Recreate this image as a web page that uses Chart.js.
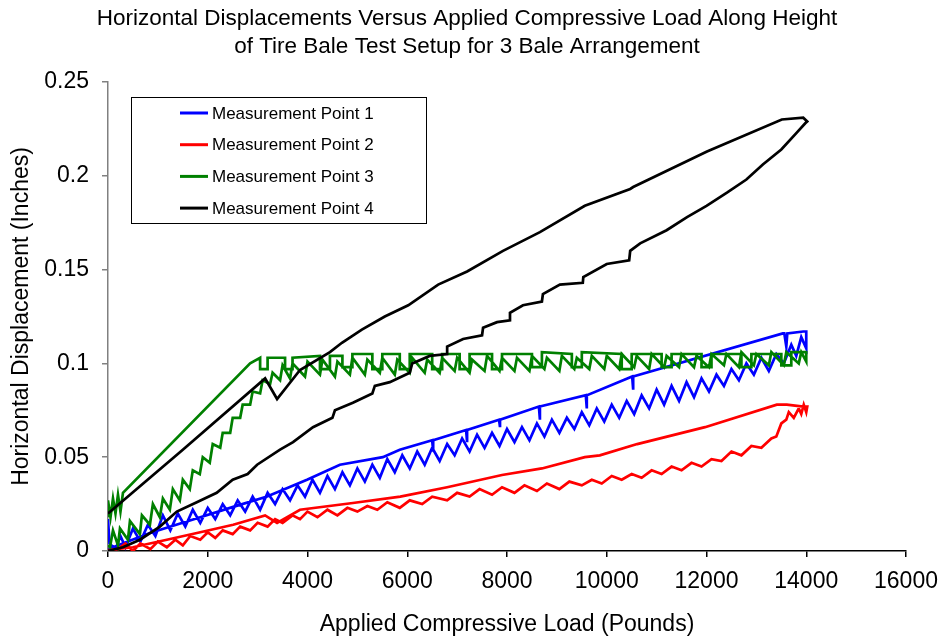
<!DOCTYPE html>
<html>
<head>
<meta charset="utf-8">
<script src="https://cdn.jsdelivr.net/npm/chart.js@4.4.1/dist/chart.umd.min.js"></script>
<style>
  body { margin: 0; background: #fff; }
</style>
</head>
<body>
<canvas id="chart" width="942" height="640"></canvas>
<script>
// chart text
const titleLines = [
  'Horizontal Displacements Versus Applied Compressive Load Along Height',
  'of Tire Bale Test Setup for 3 Bale Arrangement'
];
const xTitle = 'Applied Compressive Load (Pounds)';
const yTitle = 'Horizontal Displacement (Inches)';
const xTickLabels = ['0', '2000', '4000', '6000', '8000', '10000', '12000', '14000', '16000'];
const yTickLabels = ['0', '0.05', '0.1', '0.15', '0.2', '0.25'];
const seriesNames = ['Measurement Point 1', 'Measurement Point 2', 'Measurement Point 3', 'Measurement Point 4'];
const seriesColors = ['#0000ff', '#ff0000', '#008000', '#000000'];

// [load (lb), displacement (in)], loading then unloading
const mp1Loading = [[0,0.017],[30,0.004],[150,0.001],[250,0.008],[350,0.002],[500,0.012],[650,0.005],[800,0.014],[950,0.008],[1100,0.019],[1250,0.011],[1400,0.020],[1550,0.013],[1700,0.022],[1850,0.015],[2000,0.023],[2150,0.017],[2300,0.025],[2450,0.019],[2600,0.027],[2750,0.021],[2900,0.029],[3050,0.022],[3200,0.031],[3350,0.025],[3500,0.033],[3650,0.027],[3800,0.035],[3950,0.029],[4100,0.038],[4250,0.031],[4400,0.040],[4550,0.033],[4700,0.042],[4850,0.035],[5000,0.044],[5150,0.037],[5300,0.046],[5450,0.039],[5600,0.049],[5750,0.042],[5900,0.051],[6050,0.044],[6200,0.053],[6350,0.046],[6500,0.055],[6650,0.048],[6800,0.057],[6950,0.051],[7100,0.060],[7250,0.053],[7400,0.062],[7550,0.055],[7700,0.063],[7850,0.056],[8000,0.065],[8150,0.058],[8300,0.066],[8450,0.059],[8600,0.068],[8750,0.061],[8900,0.070],[9050,0.063],[9200,0.071],[9350,0.065],[9500,0.074],[9650,0.067],[9800,0.076],[9950,0.069],[10100,0.078],[10250,0.071],[10400,0.080],[10550,0.073],[10700,0.083],[10850,0.076],[11000,0.086],[11150,0.078],[11300,0.088],[11450,0.080],[11600,0.090],[11750,0.082],[11900,0.092],[12050,0.085],[12200,0.094],[12350,0.088],[12500,0.097],[12650,0.091],[12800,0.100],[12950,0.094],[13100,0.103],[13250,0.096],[13400,0.105],[13550,0.100],[13700,0.110],[13800,0.104],[13900,0.114],[14000,0.108],[14000,0.117]];
const mp1Unloading = [[13940,0.117],[13620,0.116],[13600,0.109],[13560,0.116],[13530,0.116],[10530,0.093],[10530,0.086],[10510,0.093],[9600,0.083],[9600,0.076],[9580,0.083],[8660,0.077],[8660,0.070],[8640,0.077],[7860,0.070],[7860,0.066],[7840,0.070],[7200,0.0645],[7200,0.058],[7180,0.0645],[6520,0.059],[6520,0.053],[6500,0.059],[5850,0.054],[5510,0.050],[4650,0.046],[3990,0.038],[3190,0.029],[2510,0.0235],[1850,0.018],[840,0.0096],[100,0.002],[0,0.001]];

const mp2Loading = [[0,0],[200,0.001],[350,0.004],[500,0.000],[650,0.004],[850,0.001],[1000,0.005],[1180,0.002],[1350,0.006],[1500,0.003],[1650,0.008],[1850,0.006],[2000,0.010],[2150,0.007],[2300,0.011],[2500,0.009],[2650,0.013],[2850,0.011],[3000,0.015],[3200,0.013],[3350,0.017],[3500,0.015],[3700,0.019],[3850,0.017],[4000,0.021],[4200,0.018],[4400,0.022],[4600,0.019],[4800,0.023],[5000,0.021],[5200,0.024],[5400,0.022],[5600,0.026],[5850,0.023],[6050,0.027],[6300,0.025],[6500,0.029],[6800,0.027],[7000,0.031],[7250,0.029],[7450,0.033],[7700,0.030],[7900,0.034],[8150,0.031],[8350,0.035],[8600,0.032],[8800,0.036],[9050,0.033],[9250,0.037],[9500,0.035],[9700,0.038],[9900,0.036],[10100,0.040],[10300,0.038],[10500,0.041],[10700,0.039],[10900,0.043],[11100,0.041],[11300,0.045],[11500,0.043],[11700,0.047],[11900,0.045],[12100,0.049],[12300,0.048],[12500,0.053],[12700,0.051],[12900,0.056],[13100,0.055],[13300,0.060],[13400,0.061],[13500,0.068],[13600,0.070],[13650,0.074],[13750,0.071],[13850,0.076],[13900,0.073],[13950,0.078],[14000,0.074],[14020,0.077]];
const mp2Unloading = [[13940,0.077],[13610,0.078],[13410,0.078],[11970,0.066],[10610,0.057],[9860,0.051],[9560,0.050],[8700,0.044],[7900,0.0405],[6800,0.034],[5860,0.029],[4910,0.0256],[3850,0.022],[3390,0.015],[3150,0.019],[2510,0.014],[1850,0.010],[1180,0.006],[500,0.002],[0,0.0005]];

const mp3Loading = [[0,0.003],[40,0.002],[100,0.011],[200,0.003],[240,0.012],[400,0.006],[440,0.016],[640,0.009],[680,0.019],[840,0.014],[900,0.025],[1040,0.018],[1100,0.028],[1240,0.022],[1300,0.033],[1440,0.027],[1500,0.038],[1640,0.033],[1700,0.043],[1840,0.041],[1900,0.050],[2040,0.047],[2100,0.057],[2250,0.055],[2300,0.063],[2450,0.063],[2500,0.071],[2650,0.071],[2700,0.078],[2850,0.078],[2900,0.085],[3050,0.084],[3100,0.091],[3250,0.089],[3300,0.095],[3450,0.091],[3500,0.099],[3650,0.092],[3700,0.100],[3950,0.093],[4000,0.101],[4250,0.094],[4300,0.102],[4550,0.093],[4600,0.101],[4850,0.094],[4900,0.103],[5150,0.094],[5200,0.102],[5450,0.095],[5500,0.103],[5750,0.094],[5800,0.102],[6050,0.095],[6100,0.103],[6350,0.095],[6400,0.102],[6650,0.095],[6700,0.103],[6950,0.096],[7000,0.103],[7250,0.095],[7300,0.102],[7550,0.096],[7600,0.104],[7850,0.096],[7900,0.103],[8150,0.096],[8200,0.103],[8450,0.096],[8500,0.104],[8750,0.097],[8800,0.103],[9050,0.096],[9100,0.104],[9350,0.097],[9400,0.103],[9650,0.097],[9700,0.104],[9950,0.097],[10000,0.104],[10250,0.097],[10300,0.105],[10550,0.098],[10600,0.104],[10850,0.097],[10900,0.105],[11150,0.098],[11200,0.104],[11450,0.098],[11500,0.105],[11750,0.098],[11800,0.104],[12050,0.098],[12100,0.105],[12350,0.099],[12400,0.105],[12650,0.098],[12700,0.106],[12950,0.099],[13000,0.105],[13250,0.099],[13300,0.106],[13550,0.099],[13600,0.106],[13850,0.100],[13900,0.106],[14000,0.101],[14000,0.106]];
const mp3Unloading = [[14000,0.106],[13700,0.106],[13700,0.099],[13500,0.099],[13500,0.105],[12900,0.105],[12900,0.098],[12700,0.098],[12700,0.105],[12100,0.105],[12100,0.098],[11900,0.098],[11900,0.105],[11300,0.105],[11300,0.098],[11100,0.098],[11100,0.105],[10500,0.105],[10500,0.097],[10300,0.097],[10300,0.105],[9500,0.106],[9500,0.098],[9300,0.098],[9300,0.105],[8700,0.106],[8700,0.098],[8500,0.098],[8500,0.105],[7900,0.105],[7900,0.097],[7700,0.097],[7700,0.105],[7250,0.105],[7250,0.097],[7050,0.097],[7050,0.105],[6700,0.105],[6700,0.097],[6500,0.097],[6500,0.105],[6050,0.105],[6050,0.097],[5850,0.097],[5850,0.105],[5500,0.105],[5500,0.097],[5300,0.097],[5300,0.105],[4900,0.105],[4900,0.098],[4700,0.098],[4700,0.104],[4450,0.104],[4450,0.097],[4250,0.097],[4250,0.104],[3700,0.103],[3700,0.097],[3550,0.097],[3550,0.103],[3200,0.103],[3200,0.097],[3050,0.097],[3050,0.103],[2850,0.100],[300,0.031],[250,0.021],[200,0.030],[150,0.020],[100,0.028],[50,0.018],[0,0.027],[0,0.018]];

const mp4Loading = [[0,0],[300,0.002],[640,0.006],[1040,0.013],[1380,0.021],[1780,0.026],[2180,0.031],[2500,0.038],[2800,0.041],[2990,0.046],[3450,0.054],[3710,0.058],[4110,0.066],[4500,0.071],[4550,0.075],[4910,0.079],[5300,0.084],[5350,0.088],[5650,0.090],[6050,0.095],[6100,0.100],[6450,0.104],[6800,0.105],[6800,0.109],[7120,0.113],[7500,0.115],[7520,0.119],[7800,0.122],[8060,0.123],[8060,0.127],[8320,0.131],[8700,0.133],[8720,0.137],[9060,0.142],[9520,0.143],[9530,0.146],[10000,0.153],[10450,0.155],[10470,0.160],[10670,0.164],[11200,0.171],[11610,0.178],[12000,0.184],[12410,0.191],[12800,0.198],[13130,0.206],[13500,0.214],[13810,0.223],[13980,0.228],[14020,0.229]];
const mp4Unloading = [[13940,0.231],[13510,0.230],[12010,0.213],[10530,0.194],[10470,0.193],[9560,0.184],[8660,0.170],[7920,0.160],[7200,0.149],[6620,0.142],[6020,0.131],[5550,0.125],[5090,0.118],[4690,0.111],[4450,0.106],[3850,0.0965],[3390,0.081],[3150,0.092],[1500,0.054],[0,0.020]];

const toPoints = pairs => pairs.map(p => ({ x: p[0], y: p[1] }));

const fontFamily = '"Liberation Sans", Arial, sans-serif';
Chart.defaults.font.family = fontFamily;
Chart.defaults.color = '#000';

function makeSet(i, loading, unloading, order) {
  return {
    label: seriesNames[i],
    data: toPoints(loading.concat(unloading)),
    borderColor: seriesColors[i],
    backgroundColor: seriesColors[i],
    borderWidth: 2.7,
    pointRadius: 0,
    showLine: true,
    fill: false,
    tension: 0,
    order: order
  };
}

// title and boxed legend drawn straight on the canvas, placed like the original
const titleAndLegend = {
  id: 'titleAndLegend',
  afterDraw(chart) {
    const ctx = chart.ctx;
    ctx.save();
    ctx.fillStyle = '#000';
    ctx.font = '22.5px ' + fontFamily;
    ctx.textAlign = 'center';
    ctx.textBaseline = 'middle';
    titleLines.forEach((line, i) => ctx.fillText(line, 467, 19 + i * 28));

    ctx.textAlign = 'left';
    ctx.fillStyle = '#fff';
    ctx.fillRect(131, 97, 295, 126);
    ctx.strokeStyle = '#000';
    ctx.lineWidth = 1;
    ctx.strokeRect(131.5, 97.5, 295, 126);
    ctx.font = '17px ' + fontFamily;
    seriesNames.forEach((name, i) => {
      const y = 113 + i * 31.7;
      ctx.strokeStyle = seriesColors[i];
      ctx.lineWidth = 3;
      ctx.beginPath();
      ctx.moveTo(180, y);
      ctx.lineTo(208, y);
      ctx.stroke();
      ctx.fillStyle = '#000';
      ctx.fillText(name, 212, y + 1);
    });
    ctx.restore();
  }
};

const config = {
  type: 'scatter',
  data: {
    datasets: [
      makeSet(0, mp1Loading, mp1Unloading, 3),
      makeSet(1, mp2Loading, mp2Unloading, 2),
      makeSet(2, mp3Loading, mp3Unloading, 1),
      makeSet(3, mp4Loading, mp4Unloading, 0)
    ]
  },
  options: {
    responsive: false,
    animation: false,
    layout: { padding: { top: 82, right: 36, bottom: 0, left: 0 } },
    plugins: {
      legend: { display: false },
      tooltip: { enabled: false },
      title: { display: false }
    },
    scales: {
      x: {
        type: 'linear',
        min: 0,
        max: 16000,
        afterFit: s => { s.height = 89; s.paddingRight = 0; s.paddingLeft = 0; },
        ticks: {
          stepSize: 2000,
          maxRotation: 0,
          padding: 11,
          font: { size: 23 },
          callback: (v, i) => xTickLabels[i]
        },
        grid: { drawOnChartArea: false, tickLength: 6, color: '#000', lineWidth: 1.5 },
        border: { color: '#000', width: 1.5 },
        title: { display: true, text: xTitle, font: { size: 23 }, padding: { top: 0, bottom: 2 } }
      },
      y: {
        type: 'linear',
        min: 0,
        max: 0.25,
        afterFit: s => { s.width = 108; },
        ticks: {
          stepSize: 0.05,
          padding: 13,
          font: { size: 23 },
          callback: (v, i) => yTickLabels[i]
        },
        grid: { drawOnChartArea: false, tickLength: 6, color: '#808080', lineWidth: 1.5 },
        border: { color: '#808080', width: 1.5 },
        title: { display: true, text: yTitle, font: { size: 23 }, padding: { top: 8, bottom: 0 } }
      }
    }
  },
  plugins: [titleAndLegend]
};

window.tireChart = new Chart(document.getElementById('chart'), config);
</script>
</body>
</html>
